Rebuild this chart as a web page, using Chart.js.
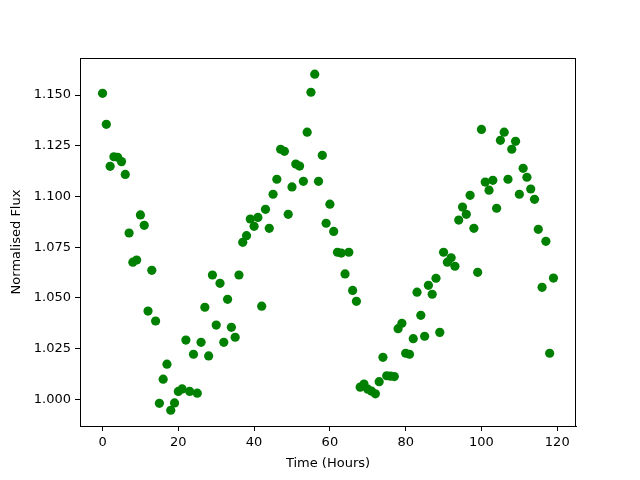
<!DOCTYPE html>
<html>
<head>
<meta charset="utf-8">
<script src="https://cdn.jsdelivr.net/npm/chart.js@4"></script>
<style>
  body { margin: 0; background: #fff; }
  canvas { display: block; }
</style>
</head>
<body>
<canvas id="myChart" width="640" height="480"></canvas>
<script>
// time of each measurement (hours)
const hours = [
  0, 1, 2, 3, 4, 5, 6, 7, 8, 9, 10, 11, 12, 13, 14, 15, 16, 17, 18, 19,
  20, 21, 22, 23, 24, 25, 26, 27, 28, 29, 30, 31, 32, 33, 34, 35, 36, 37, 38, 39,
  40, 41, 42, 43, 44, 45, 46, 47, 48, 49, 50, 51, 52, 53, 54, 55, 56, 57, 58, 59,
  60, 61, 62, 63, 64, 65, 66, 67, 68, 69, 70, 71, 72, 73, 74, 75, 76, 77, 78, 79,
  80, 81, 82, 83, 84, 85, 86, 87, 88, 89, 90, 91, 92, 93, 94, 95, 96, 97, 98, 99,
  100, 101, 102, 103, 104, 105, 106, 107, 108, 109, 110, 111, 112, 113, 114, 115, 116, 117, 118, 119
];

// normalised flux
const flux = [
  1.1509, 1.1356, 1.1149, 1.1196, 1.1193, 1.1172, 1.1109, 1.0820, 1.0676, 1.0687,
  1.0909, 1.0858, 1.0435, 1.0636, 1.0386, 0.9980, 1.0099, 1.0173, 0.9946, 0.9982,
  1.0039, 1.0051, 1.0292, 1.0039, 1.0222, 1.0030, 1.0281, 1.0454, 1.0214, 1.0613,
  1.0366, 1.0572, 1.0281, 1.0493, 1.0355, 1.0306, 1.0613, 1.0774, 1.0807, 1.0889,
  1.0853, 1.0897, 1.0459, 1.0937, 1.0843, 1.1011, 1.1085, 1.1233, 1.1223, 1.0912,
  1.1047, 1.1160, 1.1150, 1.1075, 1.1317, 1.1514, 1.1603, 1.1075, 1.1203, 1.0868,
  1.0962, 1.0828, 1.0725, 1.0721, 1.0618, 1.0725, 1.0537, 1.0483, 1.0060, 1.0075,
  1.0050, 1.0040, 1.0027, 1.0087, 1.0207, 1.0116, 1.0114, 1.0112, 1.0348, 1.0375,
  1.0227, 1.0222, 1.0299, 1.0528, 1.0414, 1.0311, 1.0562, 1.0518, 1.0597, 1.0330,
  1.0725, 1.0676, 1.0698, 1.0656, 1.0884, 1.0948, 1.0912, 1.1006, 1.0843, 1.0626,
  1.1331, 1.1071, 1.1031, 1.1080, 1.0942, 1.1277, 1.1317, 1.1085, 1.1233, 1.1272,
  1.1011, 1.1139, 1.1095, 1.1037, 1.0986, 1.0838, 1.0552, 1.0779, 1.0227, 1.0598
];

const xTicks = [0, 20, 40, 60, 80, 100, 120];
const yTicks = [1.000, 1.025, 1.050, 1.075, 1.100, 1.125, 1.150];

const points = hours.map((h, i) => ({ x: h, y: flux[i] }));

const fontFamily = "'DejaVu Sans', sans-serif";

// matplotlib style box round the plot
const frame = {
  id: "frame",
  afterDraw(chart) {
    const { ctx, chartArea: a } = chart;
    ctx.save();
    ctx.strokeStyle = "#000";
    ctx.lineWidth = 1;
    ctx.strokeRect(a.left + 0.5, a.top + 0.5, a.right - a.left - 1, a.bottom - a.top);
    ctx.restore();
  },
};

const ctx = document.getElementById("myChart").getContext("2d");
new Chart(ctx, {
  type: "scatter",
  data: {
    datasets: [
      {
        data: points,
        backgroundColor: "#008000",
        borderWidth: 0,
        pointRadius: 4.6,
        pointHoverRadius: 4.6,
      },
    ],
  },
  options: {
    responsive: false,
    animation: false,
    devicePixelRatio: 1,
    layout: { padding: { top: 58, right: 64, left: 0, bottom: 0 } },
    plugins: {
      legend: { display: false },
      tooltip: { enabled: false },
    },
    scales: {
      x: {
        type: "linear",
        min: -5.95,
        max: 124.95,
        afterBuildTicks: (scale) => {
          scale.ticks = xTicks.map((v) => ({ value: v }));
        },
        afterFit: (scale) => {
          scale.height = 54;
        },
        grid: {
          drawOnChartArea: false,
          drawTicks: true,
          tickLength: 5,
          tickColor: "#000",
        },
        border: { display: true, color: "#000", width: 1 },
        ticks: {
          color: "#000",
          padding: 4,
          maxRotation: 0,
          font: { family: fontFamily, size: 13 },
          callback: (v) => String(v),
        },
        title: {
          display: true,
          text: "Time (Hours)",
          color: "#000",
          padding: { top: 0, bottom: 9 },
          font: { family: fontFamily, size: 13 },
        },
      },
      y: {
        type: "linear",
        min: 0.98683,
        max: 1.1683,
        afterBuildTicks: (scale) => {
          scale.ticks = yTicks.map((v) => ({ value: v }));
        },
        afterFit: (scale) => {
          scale.width = 80;
        },
        grid: {
          drawOnChartArea: false,
          drawTicks: true,
          tickLength: 5,
          tickColor: "#000",
        },
        border: { display: true, color: "#000", width: 1 },
        ticks: {
          color: "#000",
          padding: 4,
          font: { family: fontFamily, size: 13 },
          callback: (v) => Number(v).toFixed(3),
        },
        title: {
          display: true,
          text: "Normalised Flux",
          color: "#000",
          padding: { top: 9, bottom: 0 },
          font: { family: fontFamily, size: 13 },
        },
      },
    },
  },
  plugins: [frame],
});
</script>
</body>
</html>
